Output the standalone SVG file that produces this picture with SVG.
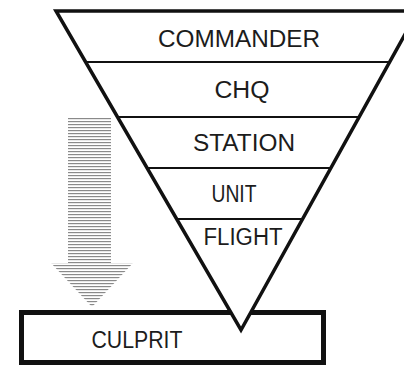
<svg xmlns="http://www.w3.org/2000/svg" width="404" height="368" viewBox="0 0 404 368">
<defs>
<pattern id="hatch" patternUnits="userSpaceOnUse" width="8" height="3">
<rect x="0" y="1" width="8" height="1.2" fill="#8a8a8a"/>
</pattern>
<style>
.lbl{font-family:"Liberation Sans","DejaVu Sans",sans-serif;font-size:23px;fill:#1c1c1c;text-anchor:middle}
.edge{stroke:#111;fill:none}
</style>
</defs>
<rect width="404" height="368" fill="#fff"/>
<g id="arrow">
<polygon points="68,117 111,117 111,263 133,263 92,307 51,263 68,263" fill="url(#hatch)"/>
</g>
<g id="culprit">
<rect x="21.5" y="312.5" width="302" height="50" fill="#fff" stroke="#111" stroke-width="5"/>
<text class="lbl" x="137" y="348" textLength="91" lengthAdjust="spacingAndGlyphs">CULPRIT</text>
</g>
<g id="pyramid">
<polygon points="56,11 418,11 241,330" fill="#fff" stroke="#111" stroke-width="3.5" stroke-linejoin="miter"/>
</g>
<g id="connectors">
<line class="edge" x1="86" y1="62" x2="389" y2="62" stroke-width="2"/>
<line class="edge" x1="118" y1="117" x2="359" y2="117" stroke-width="2"/>
<line class="edge" x1="147" y1="168" x2="330" y2="168" stroke-width="2"/>
<line class="edge" x1="177" y1="219" x2="302" y2="219" stroke-width="2"/>
</g>
<g id="commander"><text class="lbl" x="239" y="47" textLength="162" lengthAdjust="spacingAndGlyphs">COMMANDER</text></g>
<g id="chq"><text class="lbl" x="242" y="98" textLength="55" lengthAdjust="spacingAndGlyphs">CHQ</text></g>
<g id="station"><text class="lbl" x="244" y="151" textLength="102" lengthAdjust="spacingAndGlyphs">STATION</text></g>
<g id="unit"><text class="lbl" x="234" y="202" textLength="45" lengthAdjust="spacingAndGlyphs">UNIT</text></g>
<g id="flight"><text class="lbl" x="243" y="245" textLength="79" lengthAdjust="spacingAndGlyphs">FLIGHT</text></g>
</svg>
